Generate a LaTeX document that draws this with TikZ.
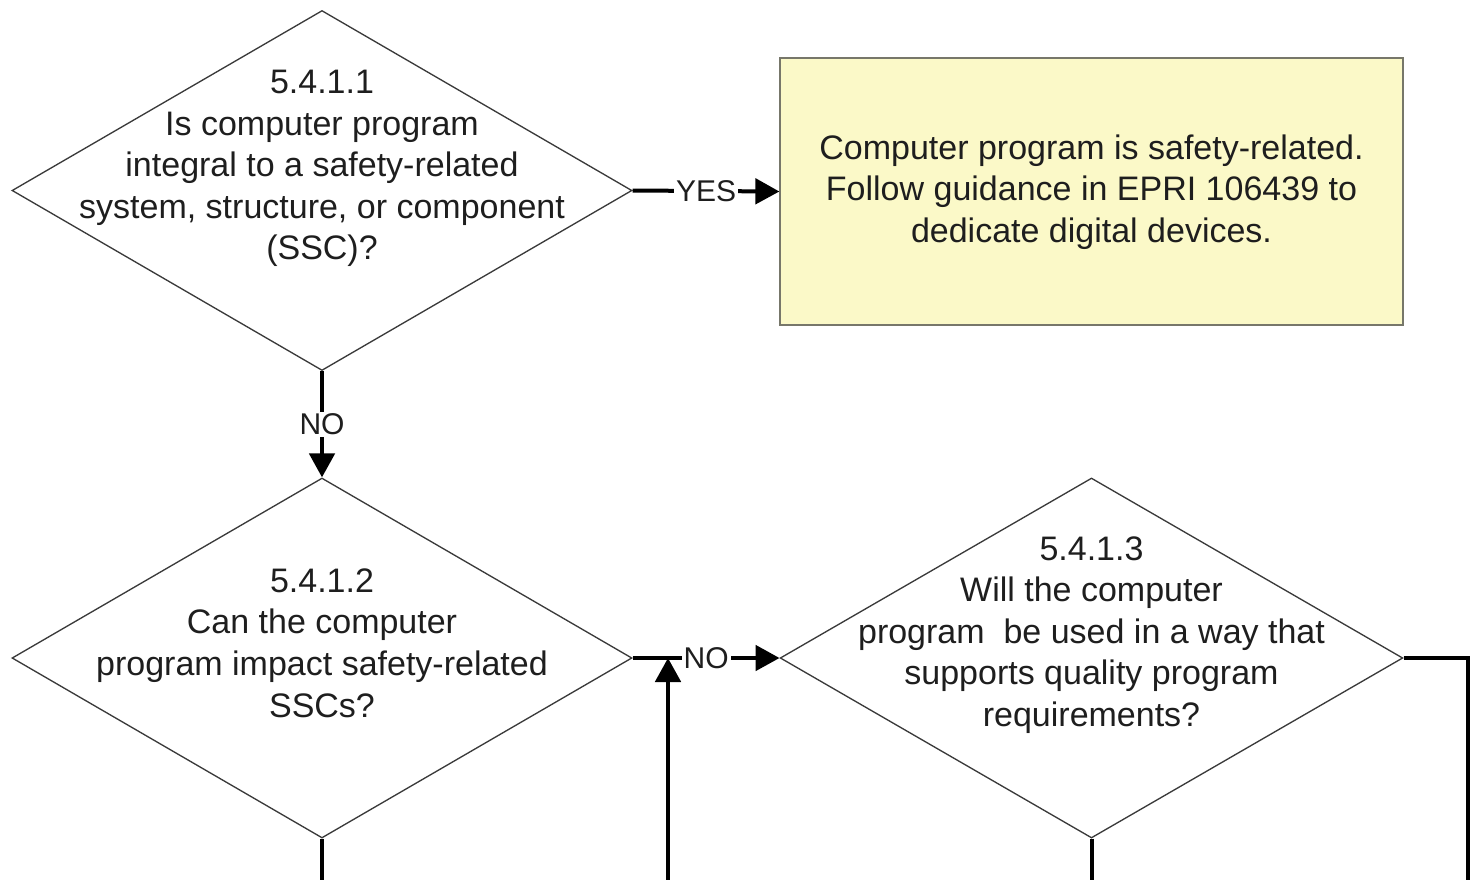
\documentclass[tikz,border=0pt]{standalone}
\usepackage{fontspec}
\setmainfont{Liberation Sans}
\usetikzlibrary{shapes.geometric,arrows.meta}
\definecolor{boxfill}{HTML}{FBF9C8}
\definecolor{boxedge}{HTML}{77776A}
\definecolor{shapeedge}{HTML}{3A3A3A}
\definecolor{ink}{HTML}{1E1E1E}
\begin{document}
\begin{tikzpicture}[x=0.75pt,y=-0.75pt,
  decision/.style={diamond,draw=shapeedge,line width=1pt,inner sep=0pt,
    minimum width=465pt,minimum height=270pt},
  outcome/.style={rectangle,draw=boxedge,fill=boxfill,line width=1.2pt,
    minimum width=467pt,minimum height=200pt,inner sep=0pt},
  qtext/.style={align=center,text=ink,font=\fontsize{25.5}{31.2}\selectfont},
  flow/.style={draw=black,line width=3pt,-{Triangle[length=18pt,width=19pt]}},
  wire/.style={draw=black,line width=3pt},
  lbl/.style={fill=white,inner sep=1.5pt,text=ink,font=\fontsize{22.5}{26}\selectfont}]
\useasboundingbox (0,0) rectangle (1470,879);
\clip (0,0) rectangle (1470,879);

% decisions
\node[decision] (q1) at (322,190.5) {};
\node[qtext] (t1) at (322,168.5) {5.4.1.1\\Is computer program\\integral to a safety-related\\system, structure, or component\\(SSC)?};

\node[decision] (q2) at (322,658) {};
\node[qtext] (t2) at (322,643) {5.4.1.2\\Can the computer\\program impact safety-related\\SSCs?};

\node[decision,minimum width=467pt] (q3) at (1091.5,658) {};
\node[qtext] (t3) at (1091.5,635) {5.4.1.3\\Will the computer\\program\ \ be used in a way that\\supports quality program\\requirements?};

% outcome box and its text
\node[outcome] (r1) at (1091.5,191.5) {};
\node[qtext] (t4) at (1091.5,192) {Computer program is safety-related.\\Follow guidance in EPRI 106439 to\\dedicate digital devices.};

% connectors
\draw[flow] (q1.east) -- node[lbl] {YES} (r1.west);
\draw[flow] (q1.south) -- node[lbl] {NO} (q2.north);
\draw[flow] (q2.east) -- node[lbl] {NO} (q3.west);

\coordinate (join) at (668,658);
\coordinate (loopin) at (668,900);
\draw[flow] (loopin) -- (join);

\coordinate (rturn) at (1468,658);
\coordinate (rdown) at (1468,900);
\draw[wire] (q3.east) -- (rturn) -- (rdown);

\coordinate (q2out) at (322,900);
\draw[wire] (q2.south) -- (q2out);
\coordinate (q3out) at (1091.5,900);
\draw[wire] (q3.south) -- (q3out);
\end{tikzpicture}
\end{document}
